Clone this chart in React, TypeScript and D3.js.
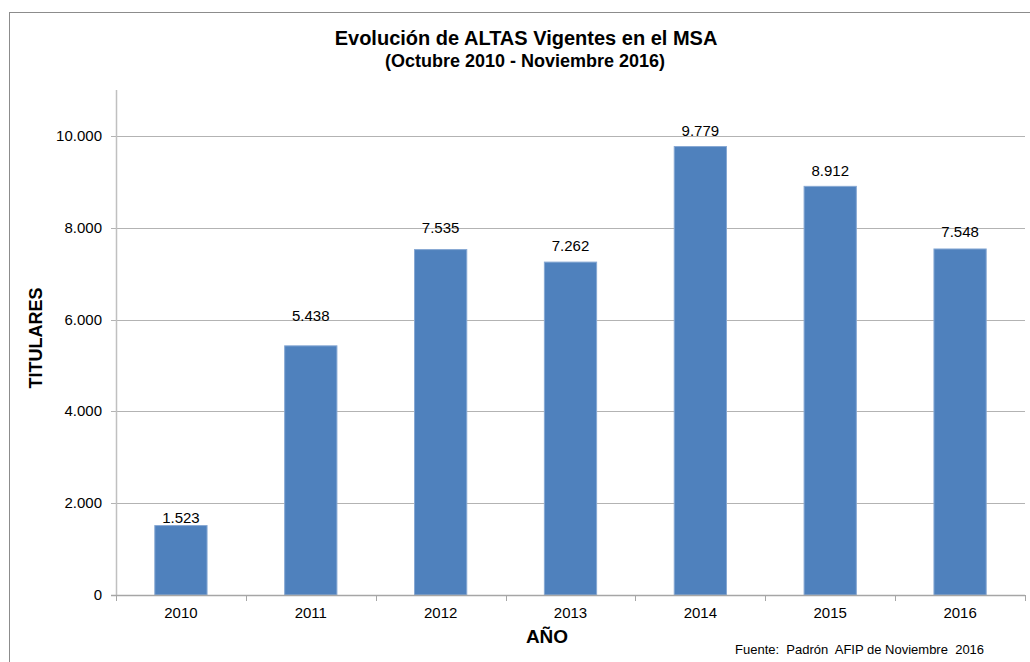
import {useEffect, useRef} from "react";
import * as d3 from "d3";

// Data
const years = ["2010", "2011", "2012", "2013", "2014", "2015", "2016"];
const altas = [1523, 5438, 7535, 7262, 9779, 8912, 7548];
const yTicks = [0, 2000, 4000, 6000, 8000, 10000];

// labels were hand-placed in the original, gap (px) between label baseline and bar top
const labelGap = [2, 24, 16, 11, 10, 10, 11];

const fmt = (v: number) => d3.format(",")(v).replace(/,/g, ".");

const App = () => {
    const svgRef = useRef<SVGSVGElement>(null);

    useEffect(() => {
        const W = 1030, H = 662;
        const svg = d3.select(svgRef.current);
        svg.selectAll("*").remove();

        const left = 116, right = 1025, top = 90, bottom = 595;

        const x = d3.scaleBand().domain(years).range([left, right]).paddingInner(0.59).paddingOuter(0.295);
        const xBand = d3.scaleBand().domain(years).range([left, right]);
        const y = d3.scaleLinear().domain([0, 11000]).range([bottom, top]);

        // frame
        svg.append("rect")
            .attr("x", 9.5).attr("y", 12.5)
            .attr("width", W + 20).attr("height", H + 20)
            .attr("fill", "white").attr("stroke", "#8c8c8c").attr("stroke-width", 1);

        // gridlines
        svg.append("g").selectAll("line")
            .data(yTicks.filter(d => d > 0))
            .join("line")
            .attr("x1", left - 5).attr("x2", right)
            .attr("y1", d => Math.round(y(d)) + 0.5).attr("y2", d => Math.round(y(d)) + 0.5)
            .attr("stroke", "#b3b3b3");

        // y axis labels
        svg.append("g").selectAll("text")
            .data(yTicks)
            .join("text")
            .attr("x", left - 14).attr("y", d => y(d) + 5)
            .attr("text-anchor", "end")
            .attr("font-size", 15)
            .text(d => fmt(d));

        // y axis line
        svg.append("line")
            .attr("x1", left + 0.5).attr("x2", left + 0.5)
            .attr("y1", top).attr("y2", bottom)
            .attr("stroke", "#c0c0c0").attr("stroke-width", 1.5);

        // bars
        svg.append("g").selectAll("rect")
            .data(altas)
            .join("rect")
            .attr("x", (_, i) => x(years[i])! + 0.5)
            .attr("width", x.bandwidth() - 1)
            .attr("y", d => y(d) + 0.5)
            .attr("height", d => bottom - y(d) - 0.5)
            .attr("fill", "#4f81bd")
            .attr("stroke", "#86a8d3").attr("stroke-width", 1);

        // value labels
        svg.append("g").selectAll("text")
            .data(altas)
            .join("text")
            .attr("x", (_, i) => x(years[i])! + x.bandwidth() / 2)
            .attr("y", (d, i) => y(d) - labelGap[i])
            .attr("text-anchor", "middle")
            .attr("font-size", 15)
            .text(d => fmt(d));

        // x axis
        svg.append("line")
            .attr("x1", left - 5).attr("x2", right)
            .attr("y1", bottom + 0.5).attr("y2", bottom + 0.5)
            .attr("stroke", "#a6a6a6").attr("stroke-width", 1.5);

        svg.append("g").selectAll("line")
            .data([...years.map(d => xBand(d)!), right])
            .join("line")
            .attr("x1", d => Math.round(d) + 0.5).attr("x2", d => Math.round(d) + 0.5)
            .attr("y1", bottom).attr("y2", bottom + 6)
            .attr("stroke", "#a6a6a6");

        svg.append("g").selectAll("text")
            .data(years)
            .join("text")
            .attr("x", d => xBand(d)! + xBand.bandwidth() / 2)
            .attr("y", bottom + 23)
            .attr("text-anchor", "middle")
            .attr("font-size", 15)
            .text(d => d);

        // titles
        svg.append("text")
            .attr("x", 526).attr("y", 45)
            .attr("text-anchor", "middle")
            .attr("font-size", 20).attr("font-weight", "bold")
            .text("Evolución de ALTAS Vigentes en el MSA");
        svg.append("text")
            .attr("x", 525).attr("y", 67)
            .attr("text-anchor", "middle")
            .attr("font-size", 18).attr("font-weight", "bold")
            .text("(Octubre 2010 - Noviembre 2016)");

        svg.append("text")
            .attr("transform", `translate(42,${338}) rotate(-90)`)
            .attr("text-anchor", "middle")
            .attr("font-size", 18).attr("font-weight", "bold")
            .text("TITULARES");

        svg.append("text")
            .attr("x", 547).attr("y", 643)
            .attr("text-anchor", "middle")
            .attr("font-size", 19).attr("font-weight", "bold")
            .text("AÑO");

        svg.append("text")
            .attr("x", 735).attr("y", 654)
            .attr("font-size", 13)
            .attr("xml:space", "preserve")
            .style("white-space", "pre")
            .text("Fuente:  Padrón  AFIP de Noviembre  2016");
    }, []);

    return (
        <svg ref={svgRef} width={1030} height={662}
             style={{position: "absolute", left: 0, top: 0, fontFamily: "'Liberation Sans', Arial, sans-serif", background: "white"}} />
    );
};

export default App;
